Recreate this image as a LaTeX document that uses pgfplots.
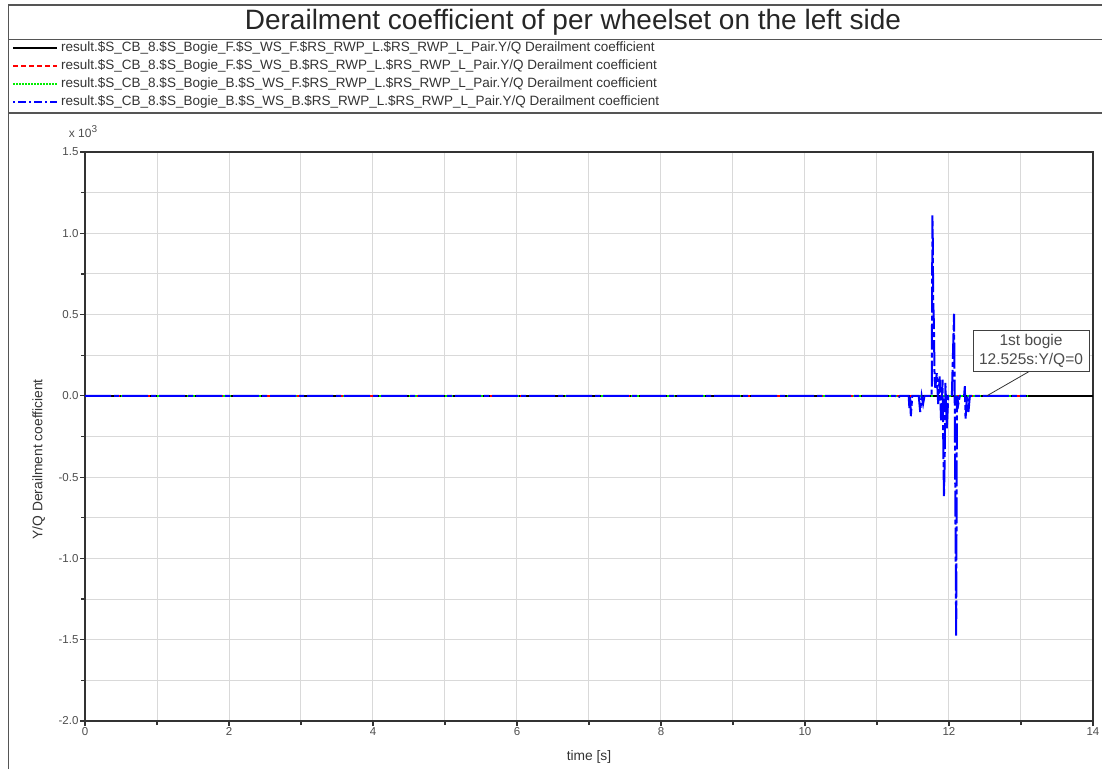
\documentclass[border=0pt]{standalone}
\usepackage{fontspec}
\setmainfont{Liberation Sans}
\usepackage{pgfplots}
\pgfplotsset{compat=1.18}
\definecolor{framegray}{HTML}{555555}
\definecolor{gridgray}{HTML}{D9D9D9}
\definecolor{ticktext}{HTML}{4D4D4D}
\definecolor{legtext}{HTML}{333333}
\definecolor{cblue}{HTML}{0000FF}
\definecolor{cgreen}{HTML}{00EE00}
\definecolor{cred}{HTML}{FF0000}
\begin{document}
\begin{tikzpicture}[x=1pt,y=1pt]
\path[use as bounding box] (0,0) rectangle (1102,-769);
\coordinate (axo) at (85,-721);
% frames
\draw[framegray, line width=1.5pt] (8.5,-769) -- (8.5,-5) -- (1102,-5);
\draw[framegray, line width=1.5pt] (8.5,-39.5) -- (1102,-39.5);
\draw[framegray, line width=1.5pt] (8.5,-113) -- (1102,-113);
\node[font=\fontsize{28}{32}\selectfont, text=black!85] at (573,-22) {Derailment coefficient of per wheelset on the left side};
% legend
\draw[black, line width=1.6pt] (13,-48) -- (57,-48);
\draw[cred, line width=1.6pt, dash pattern=on 5pt off 3pt] (13,-66) -- (57,-66);
\draw[cgreen, line width=1.6pt, dash pattern=on 1.5pt off 1.5pt] (13,-84) -- (57,-84);
\draw[cblue, line width=1.6pt, dash pattern=on 2pt off 3pt on 8pt off 3pt] (13,-102) -- (57,-102);
\begin{scope}[every node/.style={anchor=west, font=\fontsize{13.5}{15}\selectfont, text=legtext, inner sep=0pt}]
\node at (61,-48) {result.\$S\_CB\_8.\$S\_Bogie\_F.\$S\_WS\_F.\$RS\_RWP\_L.\$RS\_RWP\_L\_Pair.Y/Q Derailment coefficient};
\node at (61,-66) {result.\$S\_CB\_8.\$S\_Bogie\_F.\$S\_WS\_B.\$RS\_RWP\_L.\$RS\_RWP\_L\_Pair.Y/Q Derailment coefficient};
\node at (61,-84) {result.\$S\_CB\_8.\$S\_Bogie\_B.\$S\_WS\_F.\$RS\_RWP\_L.\$RS\_RWP\_L\_Pair.Y/Q Derailment coefficient};
\node at (61,-102) {result.\$S\_CB\_8.\$S\_Bogie\_B.\$S\_WS\_B.\$RS\_RWP\_L.\$RS\_RWP\_L\_Pair.Y/Q Derailment coefficient};
\end{scope}
\node[font=\fontsize{12}{14}\selectfont, text=ticktext] at (83,-132) {x 10\raisebox{5pt}{\fontsize{10}{10}\selectfont 3}};
\begin{axis}[
  at={(axo)}, anchor=south west, scale only axis,
  width=1008pt, height=569pt,
  xmin=0, xmax=14, ymin=-2, ymax=1.5,
  xtick={0,2,...,14}, minor x tick num=1,
  ytick={-2,-1.5,...,1.5}, minor y tick num=1,
  grid=both,
  major grid style={gridgray, line width=1pt},
  minor grid style={gridgray, line width=1pt},
  axis line style={black!80, line width=1.2pt},
  tick style={black!80, line width=1.2pt},
  tick pos=left, tick align=outside,
  major tick length=5pt, minor tick length=4pt,
  ticklabel style={font=\fontsize{11.5}{13}\selectfont, text=ticktext},
  xticklabel style={yshift=2pt},
  yticklabel style={xshift=2pt},
  /pgf/number format/assume math mode=true,
  yticklabel={\pgfmathprintnumber[fixed, fixed zerofill, precision=1]{\tick}},
  xticklabel={\pgfmathprintnumber{\tick}},
  xlabel={time [s]},
  ylabel={Y/Q Derailment coefficient},
  label style={font=\fontsize{13.8}{15}\selectfont, text=legtext},
  xlabel style={at={(axis description cs:0.5,-0.063)}, anchor=center},
  ylabel style={at={(axis description cs:-0.046,0.46)}, anchor=center},
  clip=true,
]
\addplot[black, line width=1.6pt] coordinates {(0,0) (14,0)};
\addplot[cred, line width=1.8pt, dash pattern=on 5pt off 10pt] coordinates {(0,0) (13.1,0)};
\addplot[cgreen, line width=1.8pt, dash pattern=on 2pt off 4pt] coordinates {(0,0) (13.1,0)};
\addplot[cblue, line width=2pt, dash pattern=on 26pt off 3pt on 5pt off 3pt] coordinates {
(0,0) (11.25,0) (11.30,-0.01) (11.32,0)
(11.44,0) (11.45,-0.075) (11.46,0) (11.47,-0.125) (11.49,0)
(11.58,0) (11.60,-0.10) (11.62,0) (11.64,-0.05) (11.66,0)
(11.76,0) (11.77,1.11) (11.775,0.95) (11.78,0.6) (11.79,0.45) (11.80,0.1) (11.81,0.05)
(11.83,0.14) (11.85,-0.05) (11.87,0.12) (11.89,-0.15) (11.91,0.1) (11.93,-0.62) (11.94,-0.4) (11.95,0.08) (11.97,-0.2) (11.99,0)
(12.04,0) (12.07,0.505) (12.08,-0.05) (12.10,-1.48) (12.11,0.0) (12.13,-0.05) (12.15,0)
(12.21,0) (12.22,0.06) (12.23,-0.14) (12.25,0) (12.27,-0.10) (12.29,0) (13.07,0)
};
\draw[black!80, line width=0.8pt] (axis cs:12.525,0) -- (axis cs:13.125,0.153);
\node[draw=black!75, fill=white, line width=1pt, align=center, font=\fontsize{15.5}{19}\selectfont, text=black!70, minimum width=116pt, minimum height=41pt, inner sep=1pt] at (axis cs:13.139,0.279) {1st bogie\\12.525s:Y/Q=0};
\end{axis}
\end{tikzpicture}
\end{document}
